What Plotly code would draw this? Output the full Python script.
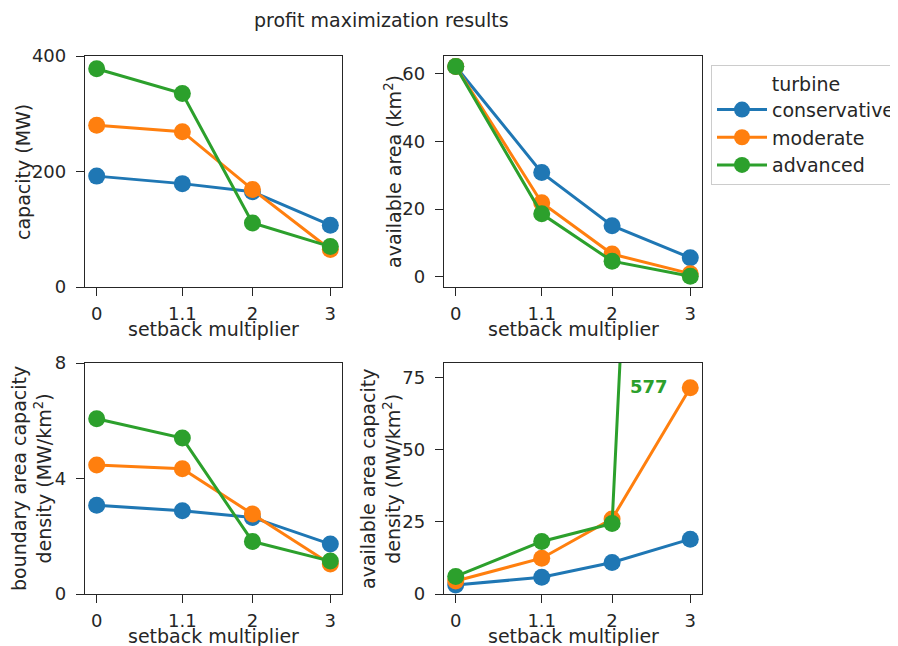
import plotly.graph_objects as go

# ---- data ----
setback = [0, 1.1, 2, 3]
setback_labels = ["0", "1.1", "2", "3"]
turbines = ["conservative", "moderate", "advanced"]
colors = ["#1f77b4", "#ff7f0e", "#2ca02c"]

capacity_mw = {
    "conservative": [192, 179, 165, 107],
    "moderate": [280, 269, 169, 65],
    "advanced": [378, 335, 111, 70],
}
available_area_km2 = {
    "conservative": [62.2, 30.8, 15.1, 5.6],
    "moderate": [62.2, 21.9, 6.7, 0.9],
    "advanced": [62.2, 18.6, 4.6, 0.12],
}
boundary_density = {
    "conservative": [3.07, 2.88, 2.65, 1.73],
    "moderate": [4.47, 4.34, 2.77, 1.04],
    "advanced": [6.07, 5.40, 1.82, 1.14],
}
available_density = {
    "conservative": [3.1, 5.8, 10.9, 19.0],
    "moderate": [4.5, 12.4, 26.0, 71.4],
    "advanced": [6.1, 18.2, 24.4, 577],
}

panels = [
    (capacity_mw, "x", "y"),
    (available_area_km2, "x2", "y2"),
    (boundary_density, "x3", "y3"),
    (available_density, "x4", "y4"),
]

W, H = 898, 646
OFF = 8  # page body margin offset
TXT = "#262626"
FONT = "DejaVu Sans"

fig = go.Figure()
for pi, (data, xa, ya) in enumerate(panels):
    for t, c in zip(turbines, colors):
        fig.add_trace(go.Scatter(
            x=setback, y=data[t], xaxis=xa, yaxis=ya,
            mode="lines+markers", name=t,
            line=dict(color=c, width=3),
            marker=dict(color=c, size=17, line=dict(width=0)),
            showlegend=(pi == 0),
        ))

def px_x(a, b):
    return [(a - OFF) / W, (b - OFF) / W]

def px_y(top, bottom):
    return [1 - (bottom - OFF) / H, 1 - (top - OFF) / H]

def axis_common(letter):
    return dict(
        showline=True, mirror=True, linecolor=TXT, linewidth=1.25,
        ticks="outside", ticklen=8, tickwidth=1.25, tickcolor=TXT,
        showgrid=False, zeroline=False, automargin=False,
        ticklabelstandoff=(2 if letter == "x" else 6),
        tickfont=dict(family=FONT, size=18, color=TXT),
    )

xdom_l = px_x(85, 342)
xdom_r = px_x(444, 702)
ydom_t = px_y(56, 287)
ydom_b = px_y(363, 594)

def xcfg():
    return dict(range=[-0.15, 3.15], tickvals=setback, ticktext=setback_labels, **axis_common("x"))

fig.update_layout(
    xaxis=dict(domain=xdom_l, anchor="y", **xcfg()),
    yaxis=dict(domain=ydom_t, anchor="x", range=[0, 400], tickvals=[0, 200, 400], **axis_common("y")),
    xaxis2=dict(domain=xdom_r, anchor="y2", **xcfg()),
    yaxis2=dict(domain=ydom_t, anchor="x2", range=[-3.05, 65.3], tickvals=[0, 20, 40, 60], **axis_common("y")),
    xaxis3=dict(domain=xdom_l, anchor="y3", **xcfg()),
    yaxis3=dict(domain=ydom_b, anchor="x3", range=[0, 8], tickvals=[0, 4, 8], **axis_common("y")),
    xaxis4=dict(domain=xdom_r, anchor="y4", **xcfg()),
    yaxis4=dict(domain=ydom_b, anchor="x4", range=[0, 80], tickvals=[0, 25, 50, 75], **axis_common("y")),
)

annotations = []
def ann(text, x, y, size=19, angle=0, color=TXT):
    annotations.append(dict(
        text=text,
        x=(x - OFF) / W, y=1 - (y - OFF) / H, xref="paper", yref="paper",
        showarrow=False, textangle=angle, xanchor="center", yanchor="middle",
        font=dict(family=FONT, size=size, color=color),
    ))

ann("profit maximization results", 381, 20)
ann("setback multiplier", 213.5, 329)
ann("setback multiplier", 573, 329)
ann("setback multiplier", 213.5, 636)
ann("setback multiplier", 573, 636)
ann("capacity (MW)", 23, 172, angle=-90)
ann("available area (km<sup>2</sup>)", 393, 172, angle=-90)
ann("boundary area capacity<br>density (MW/km<sup>2</sup>)", 31, 479, angle=-90)
ann("available area capacity<br>density (MW/km<sup>2</sup>)", 380, 479, angle=-90)

fig.update_layout(annotations=annotations)
fig.add_annotation(
    text="<b>577</b>", x=2.2, y=72, xref="x4", yref="y4", showarrow=False,
    xanchor="left", yanchor="middle",
    font=dict(family=FONT, size=18, color=colors[2]),
)

fig.update_layout(
    width=W, height=H,
    margin=dict(l=0, r=0, t=0, b=0, autoexpand=False),
    paper_bgcolor="white", plot_bgcolor="white",
    font=dict(family=FONT, size=19, color=TXT),
    legend=dict(
        x=(711 - OFF) / W, y=1 - (65 - OFF) / H, xanchor="left", yanchor="top",
        bordercolor="#cccccc", borderwidth=1, bgcolor="white",
        font=dict(family=FONT, size=19, color=TXT),
        title=dict(text="turbine", side="top center", font=dict(family=FONT, size=19, color=TXT)),
        itemwidth=50, tracegroupgap=0,
    ),
)

fig.write_html("out.html")
